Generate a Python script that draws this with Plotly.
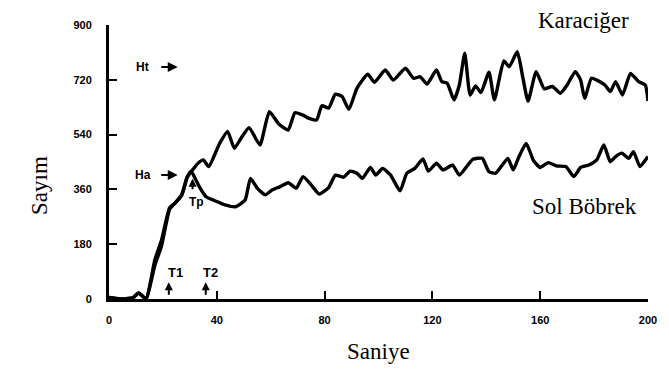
import plotly.graph_objects as go

# ---- data ----
liver_t = [0, 5, 9, 11, 13, 14, 17, 19.5, 22.5, 24.5, 27, 29, 31, 33.5, 35, 37, 41, 44, 46.5, 49,
           52, 56, 59.5, 63, 66.5, 69, 72, 74, 77, 79, 81.5, 84, 86.5, 89, 92, 96, 98.5, 102.5, 105.5, 110,
           113, 115.5, 118, 121.5, 123.5, 125.5, 128, 130, 132, 134, 136, 138, 141, 143, 146.5, 148.5, 151.5, 153.5, 155.5, 158.5,
           161.5, 164.5, 167.5, 170, 173, 175, 176.5, 179, 181, 184, 186, 188, 190.5, 193.5, 196.5, 199, 200]
liver_v = [5, 0, 5, 20, 5, 5, 128, 194, 300, 315, 342, 400, 424, 450, 457, 435, 510, 550, 495, 528,
           563, 506, 615, 575, 555, 612, 604, 594, 588, 635, 627, 673, 665, 623, 692, 738, 712, 752, 719, 758,
           725, 730, 706, 752, 714, 709, 654, 703, 807, 670, 700, 678, 745, 654, 782, 763, 812, 730, 650, 747,
           690, 698, 676, 703, 747, 719, 659, 725, 719, 703, 681, 714, 670, 741, 714, 703, 650]

kidney_t = [0, 5, 9, 11, 13, 14, 17, 19.5, 22.5, 24.5, 27, 29, 30.5, 32, 33.5, 36, 39.5, 43, 47, 50.5,
            52.5, 55, 58, 60.5, 63.5, 66.5, 69.5, 72, 75, 78, 81.5, 84, 87, 89.5, 92, 94, 97, 99, 101.5, 104.5,
            108, 110.5, 113.5, 116.5, 118.5, 121.5, 124, 127.5, 130, 135, 138.5, 141, 143.5, 148, 150, 152, 154.8, 157.5, 160, 163,
            166, 169.5, 172.5, 175, 178, 181, 183.6, 186, 188, 190.3, 192.8, 194.6, 197, 199.5, 200]
kidney_v = [5, 0, 5, 20, 5, 5, 110, 175, 295, 315, 342, 400, 420, 395, 369, 336, 322, 309, 303, 325,
            396, 364, 342, 358, 369, 382, 364, 402, 375, 345, 366, 407, 400, 420, 413, 396, 432, 407, 429, 407,
            355, 413, 429, 460, 420, 446, 424, 440, 407, 459, 462, 418, 413, 462, 424, 465, 511, 455, 432, 448,
            437, 435, 402, 432, 440, 457, 506, 451, 468, 479, 462, 484, 435, 462, 468]

x_ticks = [0, 40, 80, 120, 160, 200]
y_ticks = [0, 180, 360, 540, 720, 900]
y_ticklabels = ["0", "180", "360", "540", "720", "900"]

serif = "Liberation Serif, Times New Roman, serif"
sans = "Liberation Sans, Arial, sans-serif"

fig = go.Figure()
fig.add_trace(go.Scatter(x=liver_t, y=liver_v, mode="lines", name="Karaciğer",
                         line=dict(color="black", width=3.4, shape="spline", smoothing=0.5)))
fig.add_trace(go.Scatter(x=kidney_t, y=kidney_v, mode="lines", name="Sol Böbrek",
                         line=dict(color="black", width=3.4, shape="spline", smoothing=0.5)))

ann = []
# series labels
ann.append(dict(xref="paper", yref="paper", x=0.880, y=1.018, text="Karaciğer", showarrow=False,
                xanchor="center", yanchor="middle", font=dict(family=serif, size=23, color="black")))
ann.append(dict(xref="paper", yref="paper", x=0.882, y=0.339, text="Sol Böbrek", showarrow=False,
                xanchor="center", yanchor="middle", font=dict(family=serif, size=23, color="black")))
# axis titles
ann.append(dict(xref="paper", yref="paper", x=0.5, y=-0.193, text="Saniye", showarrow=False,
                xanchor="center", yanchor="middle", font=dict(family=serif, size=23, color="black")))
ann.append(dict(xref="paper", yref="paper", x=-0.130, y=0.416, text="Sayım", showarrow=False, textangle=-90,
                xanchor="center", yanchor="middle", font=dict(family=serif, size=23, color="black")))
# Ht / Ha markers
for lbl, val in [("Ht", 762), ("Ha", 407)]:
    ann.append(dict(x=12.5, y=val, text="<b>" + lbl + "</b>", showarrow=False,
                    font=dict(family=sans, size=12, color="black")))
    ann.append(dict(x=25.5, y=val, ax=-18, ay=0, text="", showarrow=True, arrowhead=2,
                    arrowsize=1, arrowwidth=2, arrowcolor="black"))
# Tp
ann.append(dict(x=31, y=395, ax=0, ay=12, text="", showarrow=True, arrowhead=2,
                arrowsize=0.8, arrowwidth=2, arrowcolor="black"))
ann.append(dict(x=32.5, y=318, text="<b>Tp</b>", showarrow=False, font=dict(family=sans, size=12, color="black")))
# T1 / T2
for lbl, tx, lx in [("T1", 22.2, 24.6), ("T2", 35.9, 37.8)]:
    ann.append(dict(x=tx, y=55, ax=0, ay=14, text="", showarrow=True, arrowhead=2,
                    arrowsize=0.8, arrowwidth=2, arrowcolor="black"))
    ann.append(dict(x=lx, y=88, text="<b>" + lbl + "</b>", showarrow=False,
                    font=dict(family=sans, size=13, color="black")))

fig.update_layout(
    width=669, height=372,
    margin=dict(l=109, r=16, t=25, b=73),
    paper_bgcolor="white", plot_bgcolor="white",
    showlegend=False,
    annotations=ann,
)
fig.update_xaxes(range=[0, 200], tickvals=x_ticks, ticktext=[str(v) for v in x_ticks],
                 ticks="inside", ticklen=8, tickwidth=2, tickcolor="black",
                 showline=True, linecolor="black", linewidth=2.5, showgrid=False, zeroline=False,
                 ticklabelstandoff=9,
                 tickfont=dict(family=sans, size=11, color="black", weight="bold"))
fig.update_yaxes(range=[0, 900], tickvals=y_ticks, ticktext=y_ticklabels,
                 ticks="inside", ticklen=8, tickwidth=2, tickcolor="black",
                 showline=True, linecolor="black", linewidth=3, showgrid=False, zeroline=False,
                 ticklabelstandoff=12,
                 tickfont=dict(family=sans, size=11, color="black", weight="bold"))

fig.write_html("out.html")
